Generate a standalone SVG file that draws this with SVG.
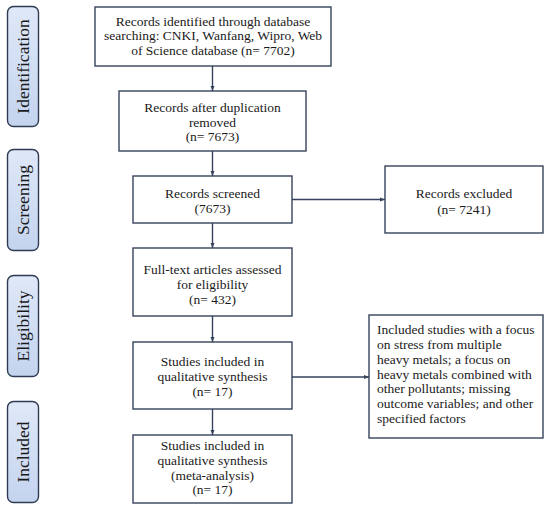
<svg xmlns="http://www.w3.org/2000/svg" width="550" height="510" viewBox="0 0 550 510">
<defs>
<linearGradient id="g" x1="0" y1="0" x2="0" y2="1">
<stop offset="0" stop-color="#dfe8f8"/>
<stop offset="1" stop-color="#c4d4ee"/>
</linearGradient>
<marker id="ah" viewBox="0 0 10 10" refX="10" refY="5" markerWidth="5" markerHeight="5" orient="auto" markerUnits="userSpaceOnUse">
<path d="M0,1 L10,5 L0,9 z" fill="#36435c"/>
</marker>
<style>
.box{fill:#fff;stroke:#36435c;stroke-width:1.4}
.side{fill:url(#g);stroke:#2f3b52;stroke-width:1.4}
text{font-family:"Liberation Serif","Times New Roman",serif;fill:#1a1a1a}
.t{font-size:13.5px;text-anchor:middle}
.l{font-size:13.5px}
.s{font-size:17.5px;text-anchor:middle}
.c{stroke:#36435c;stroke-width:1.4;fill:none;marker-end:url(#ah)}
</style>
</defs>
<rect width="550" height="510" fill="#fff"/>
<g id="stage-identification">
<rect class="side" x="7.5" y="6.5" width="31" height="120" rx="6"/>
<text class="s" transform="translate(29,66.5) rotate(-90)">Identification</text>
</g>
<g id="stage-screening">
<rect class="side" x="7.5" y="149.5" width="31" height="101" rx="6"/>
<text class="s" transform="translate(29,200) rotate(-90)">Screening</text>
</g>
<g id="stage-eligibility">
<rect class="side" x="7.5" y="275.5" width="31" height="101" rx="6"/>
<text class="s" transform="translate(29,326) rotate(-90)">Eligibility</text>
</g>
<g id="stage-included">
<rect class="side" x="7.5" y="401.5" width="31" height="101" rx="6"/>
<text class="s" transform="translate(29,452) rotate(-90)">Included</text>
</g>
<g id="connectors">
<line class="c" x1="212.5" y1="66" x2="212.5" y2="91"/>
<line class="c" x1="212.5" y1="151" x2="212.5" y2="176"/>
<line class="c" x1="212.5" y1="223" x2="212.5" y2="248"/>
<line class="c" x1="212.5" y1="316" x2="212.5" y2="342"/>
<line class="c" x1="212.5" y1="409" x2="212.5" y2="435"/>
<line class="c" x1="292" y1="199.5" x2="385" y2="199.5"/>
<line class="c" x1="292" y1="377" x2="369" y2="377"/>
</g>
<g id="records-identified">
<rect class="box" x="95" y="7" width="236" height="59"/>
<text class="t" x="213" y="25.5">Records identified through database</text>
<text class="t" x="213" y="40">searching: CNKI, Wanfang, Wipro, Web</text>
<text class="t" x="213" y="54.5">of Science database (n= 7702)</text>
</g>
<g id="records-after-duplication">
<rect class="box" x="119" y="91" width="187" height="60"/>
<text class="t" x="212.5" y="112">Records after duplication</text>
<text class="t" x="212.5" y="126.5">removed</text>
<text class="t" x="212.5" y="141">(n= 7673)</text>
</g>
<g id="records-screened">
<rect class="box" x="133" y="176" width="159" height="47"/>
<text class="t" x="212.5" y="197.5">Records screened</text>
<text class="t" x="212.5" y="213">(7673)</text>
</g>
<g id="records-excluded">
<rect class="box" x="385" y="166" width="158" height="67"/>
<text class="t" x="464" y="197.5">Records excluded</text>
<text class="t" x="464" y="214">(n= 7241)</text>
</g>
<g id="full-text-assessed">
<rect class="box" x="133" y="248" width="159" height="68"/>
<text class="t" x="212.5" y="274">Full-text articles assessed</text>
<text class="t" x="212.5" y="288.5">for eligibility</text>
<text class="t" x="212.5" y="304">(n= 432)</text>
</g>
<g id="qualitative-synthesis">
<rect class="box" x="133" y="342" width="159" height="67"/>
<text class="t" x="212.5" y="366">Studies included in</text>
<text class="t" x="212.5" y="381">qualitative synthesis</text>
<text class="t" x="212.5" y="396">(n= 17)</text>
</g>
<g id="meta-analysis">
<rect class="box" x="133" y="435" width="159" height="68"/>
<text class="t" x="212.5" y="450">Studies included in</text>
<text class="t" x="212.5" y="465">qualitative synthesis</text>
<text class="t" x="212.5" y="479.5">(meta-analysis)</text>
<text class="t" x="212.5" y="494">(n= 17)</text>
</g>
<g id="excluded-reasons">
<rect class="box" x="369" y="315" width="174" height="123"/>
<text class="l" x="377" y="334">Included studies with a focus</text>
<text class="l" x="377" y="349">on stress from multiple</text>
<text class="l" x="377" y="363.5">heavy metals; a focus on</text>
<text class="l" x="377" y="378.5">heavy metals combined with</text>
<text class="l" x="377" y="393">other pollutants; missing</text>
<text class="l" x="377" y="408">outcome variables; and other</text>
<text class="l" x="377" y="423">specified factors</text>
</g>
</svg>
